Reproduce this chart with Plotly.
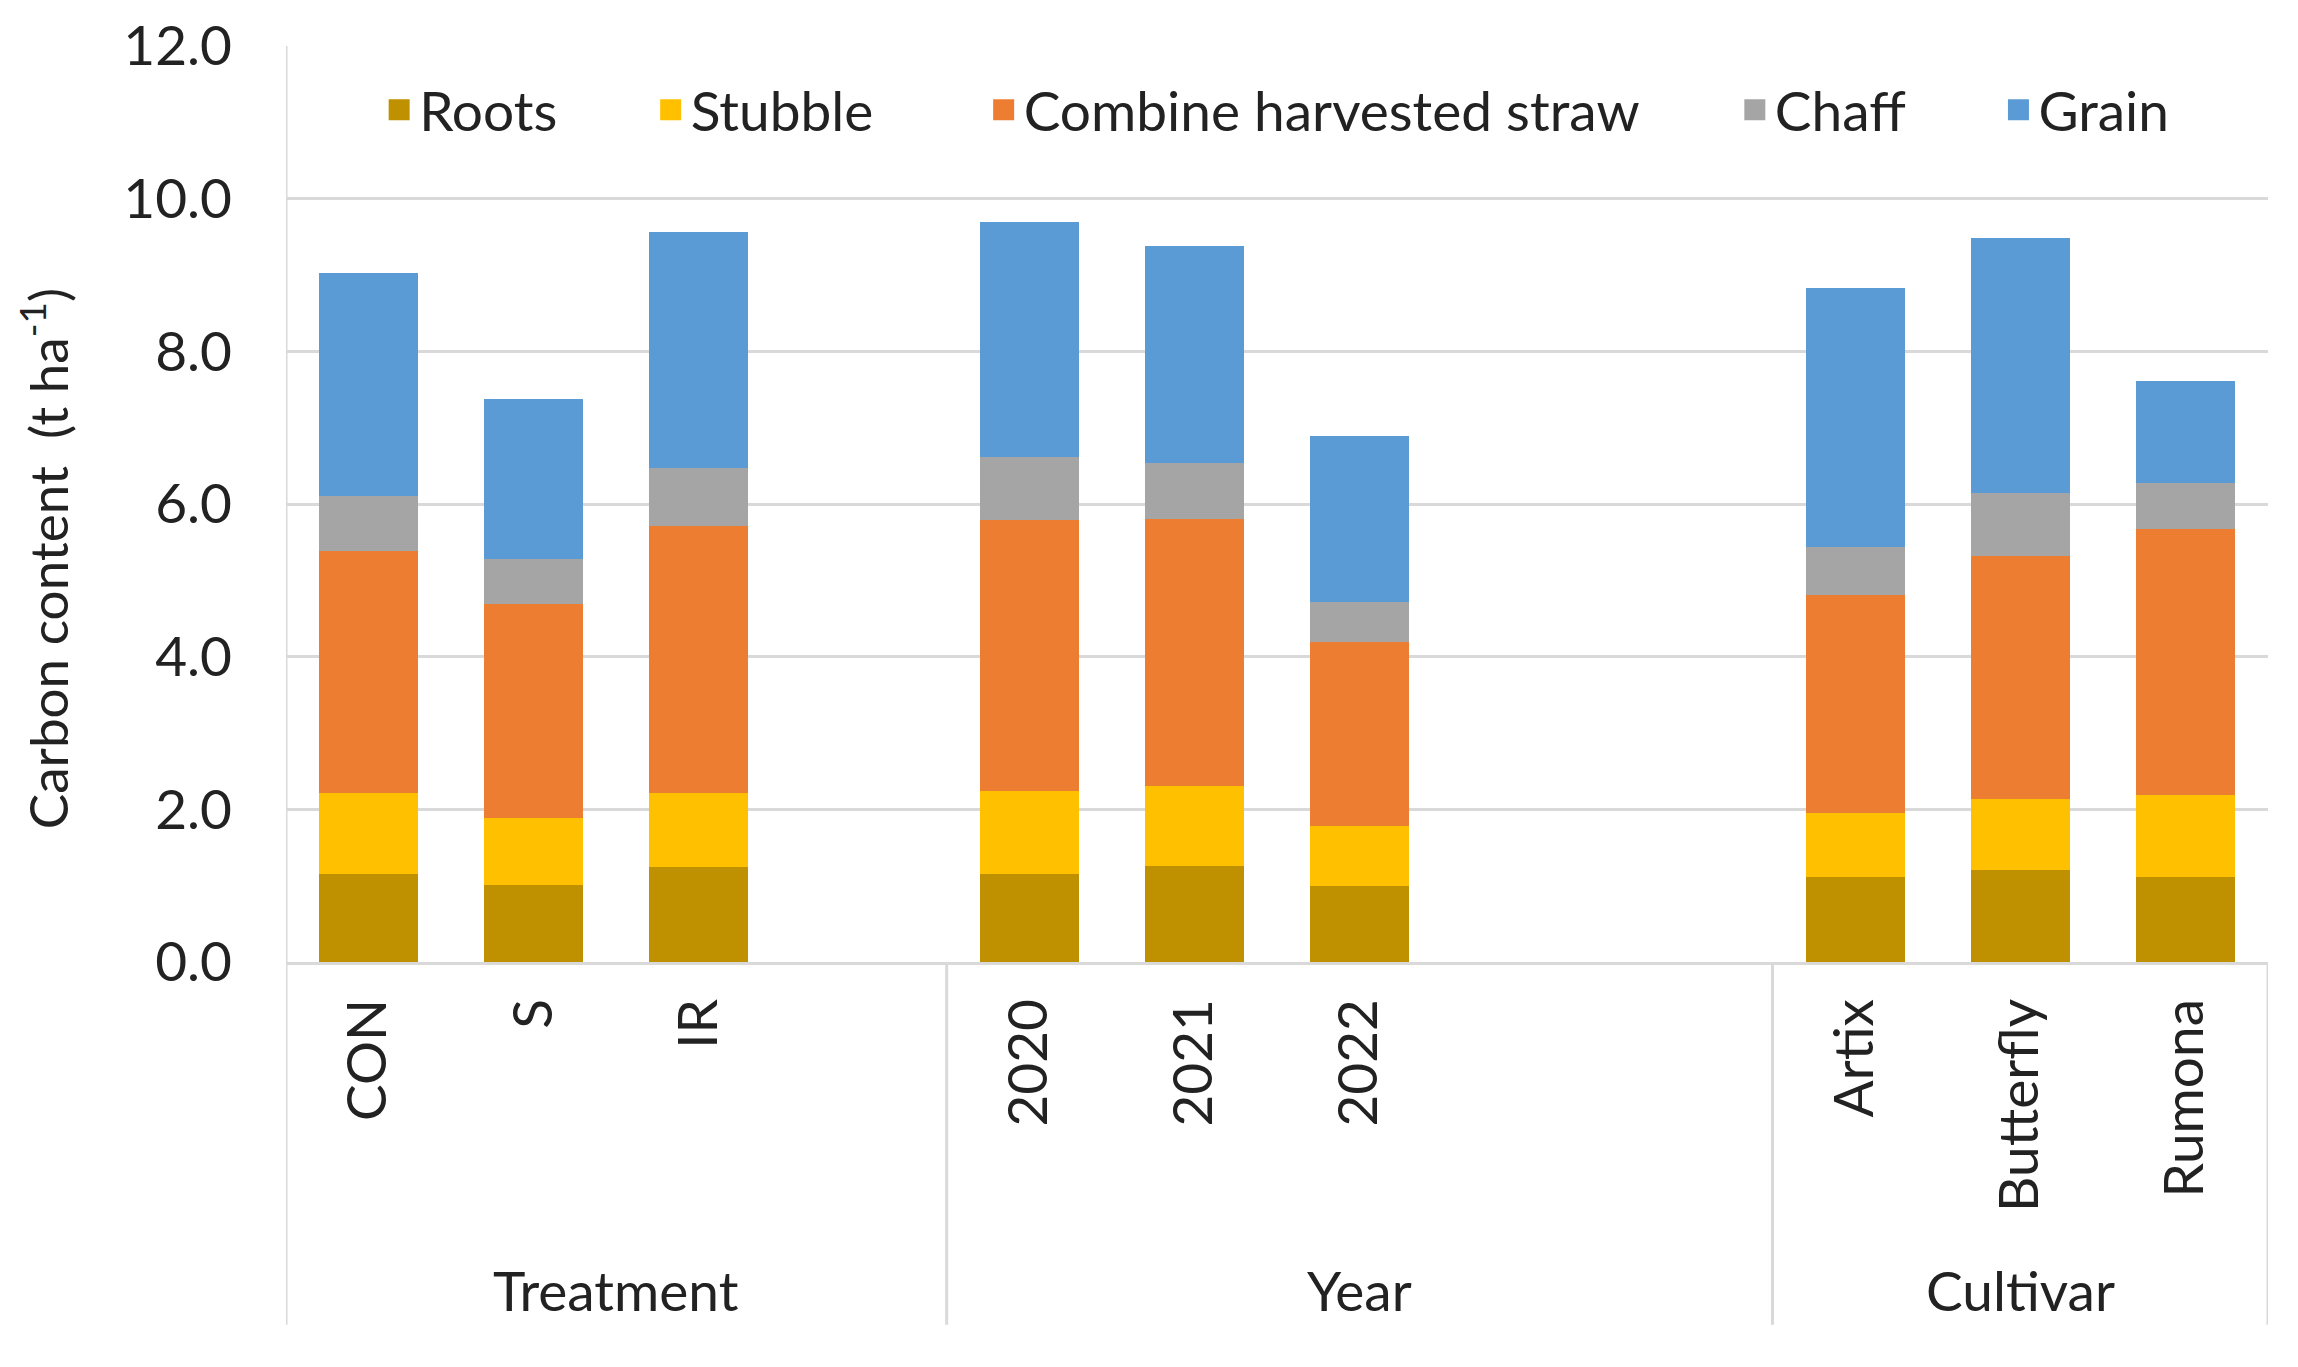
import plotly.graph_objects as go

# ---- data ----
slot_labels = ["CON", "S", "IR", None, "2020", "2021", "2022", None, None, "Artix", "Butterfly", "Rumona"]
categories = ["CON", "S", "IR", "2020", "2021", "2022", "Artix", "Butterfly", "Rumona"]
groups = ["Treatment", "Year", "Cultivar"]
group_slots = [(0, 3), (4, 8), (9, 11)]  # first and last slot index of each group

roots = [1.15, 1.01, 1.24, 1.15, 1.26, 0.99, 1.12, 1.20, 1.12]
stubble = [1.07, 0.88, 0.98, 1.09, 1.04, 0.79, 0.83, 0.94, 1.07]
straw = [3.16, 2.80, 3.49, 3.55, 3.51, 2.41, 2.86, 3.18, 3.48]
chaff = [0.72, 0.59, 0.76, 0.83, 0.73, 0.52, 0.63, 0.83, 0.60]
grain = [2.92, 2.09, 3.09, 3.07, 2.84, 2.18, 3.39, 3.33, 1.34]

series_names = ["Roots", "Stubble", "Combine harvested straw", "Chaff", "Grain"]
series_values = [roots, stubble, straw, chaff, grain]
series_colors = ["#BF9000", "#FFC000", "#ED7D31", "#A5A5A5", "#5B9BD5"]

y_ticks = [0, 2, 4, 6, 8, 10, 12]

FONT = "Lato"
FS = 55
TXT = "#222222"
GRID = "#d9d9d9"

x_pos = [slot_labels.index(c) for c in categories]
n_slots = len(slot_labels)

# legend entry positions (paper x of each legend box)
legend_x = [0.047, 0.184, 0.352, 0.731, 0.864]

fig = go.Figure()
for i, (name, vals, col) in enumerate(zip(series_names, series_values, series_colors)):
    fig.add_trace(go.Bar(x=x_pos, y=vals, name=name, showlegend=False,
                         marker=dict(color=col, line=dict(width=0))))
    lg = "legend" if i == 0 else f"legend{i + 1}"
    fig.add_trace(go.Scatter(x=[None], y=[None], mode="markers", name=name,
                             legend=lg, showlegend=True,
                             marker=dict(symbol="square", size=16, color=col,
                                         line=dict(color=col, width=12))))

shapes = []
for xv in [-0.5] + [g[1] + 0.5 for g in group_slots]:
    shapes.append(dict(type="line", xref="x", yref="paper", x0=xv, x1=xv,
                       y0=0, y1=-0.396, line=dict(color=GRID, width=3), layer="below"))
shapes.append(dict(type="line", xref="x", yref="paper", x0=-0.5, x1=-0.5,
                   y0=0, y1=1, line=dict(color=GRID, width=3), layer="below"))

annotations = []
for g, (a, b) in zip(groups, group_slots):
    annotations.append(dict(text=g, x=(a + b) / 2, y=-0.358, xref="x", yref="paper",
                            showarrow=False, xanchor="center", yanchor="middle",
                            font=dict(family=FONT, size=FS, color=TXT)))
annotations.append(dict(text="Carbon content  (t ha<sup>-1</sup>)", x=-0.122, y=0.44,
                        xref="paper", yref="paper", textangle=-90, showarrow=False,
                        xanchor="center", yanchor="middle",
                        font=dict(family=FONT, size=53, color=TXT)))

legend_common = dict(orientation="h", y=0.93, xanchor="left", yanchor="middle",
                     font=dict(family=FONT, size=FS, color=TXT),
                     bgcolor="rgba(0,0,0,0)", itemwidth=30)
legends = {}
for i, lx in enumerate(legend_x):
    key = "legend" if i == 0 else f"legend{i + 1}"
    legends[key] = dict(legend_common, x=lx)

fig.update_layout(
    width=2298, height=1367,
    margin=dict(l=286, r=30, t=46, b=405, autoexpand=False),
    paper_bgcolor="white", plot_bgcolor="white",
    barmode="stack", bargap=0.4,
    font=dict(family=FONT, size=FS, color=TXT),
    shapes=shapes, annotations=annotations,
    xaxis=dict(range=[-0.5, n_slots - 0.5], tickvals=x_pos, ticktext=categories,
               tickangle=-90, showgrid=False, zeroline=False,
               showline=True, linecolor=GRID, linewidth=3, ticks="",
               ticklabelstandoff=12, tickfont=dict(family=FONT, size=FS, color=TXT)),
    yaxis=dict(range=[0, 12], tickvals=y_ticks, tickformat=".1f", showgrid=True,
               gridcolor=GRID, gridwidth=3, zeroline=False, showline=False,
               ticks="", ticklabelstandoff=53, tickfont=dict(family=FONT, size=FS, color=TXT)),
    **legends,
)

fig.write_html("out.html", config={"displayModeBar": False},
               post_script="document.body.style.margin='0px';")
